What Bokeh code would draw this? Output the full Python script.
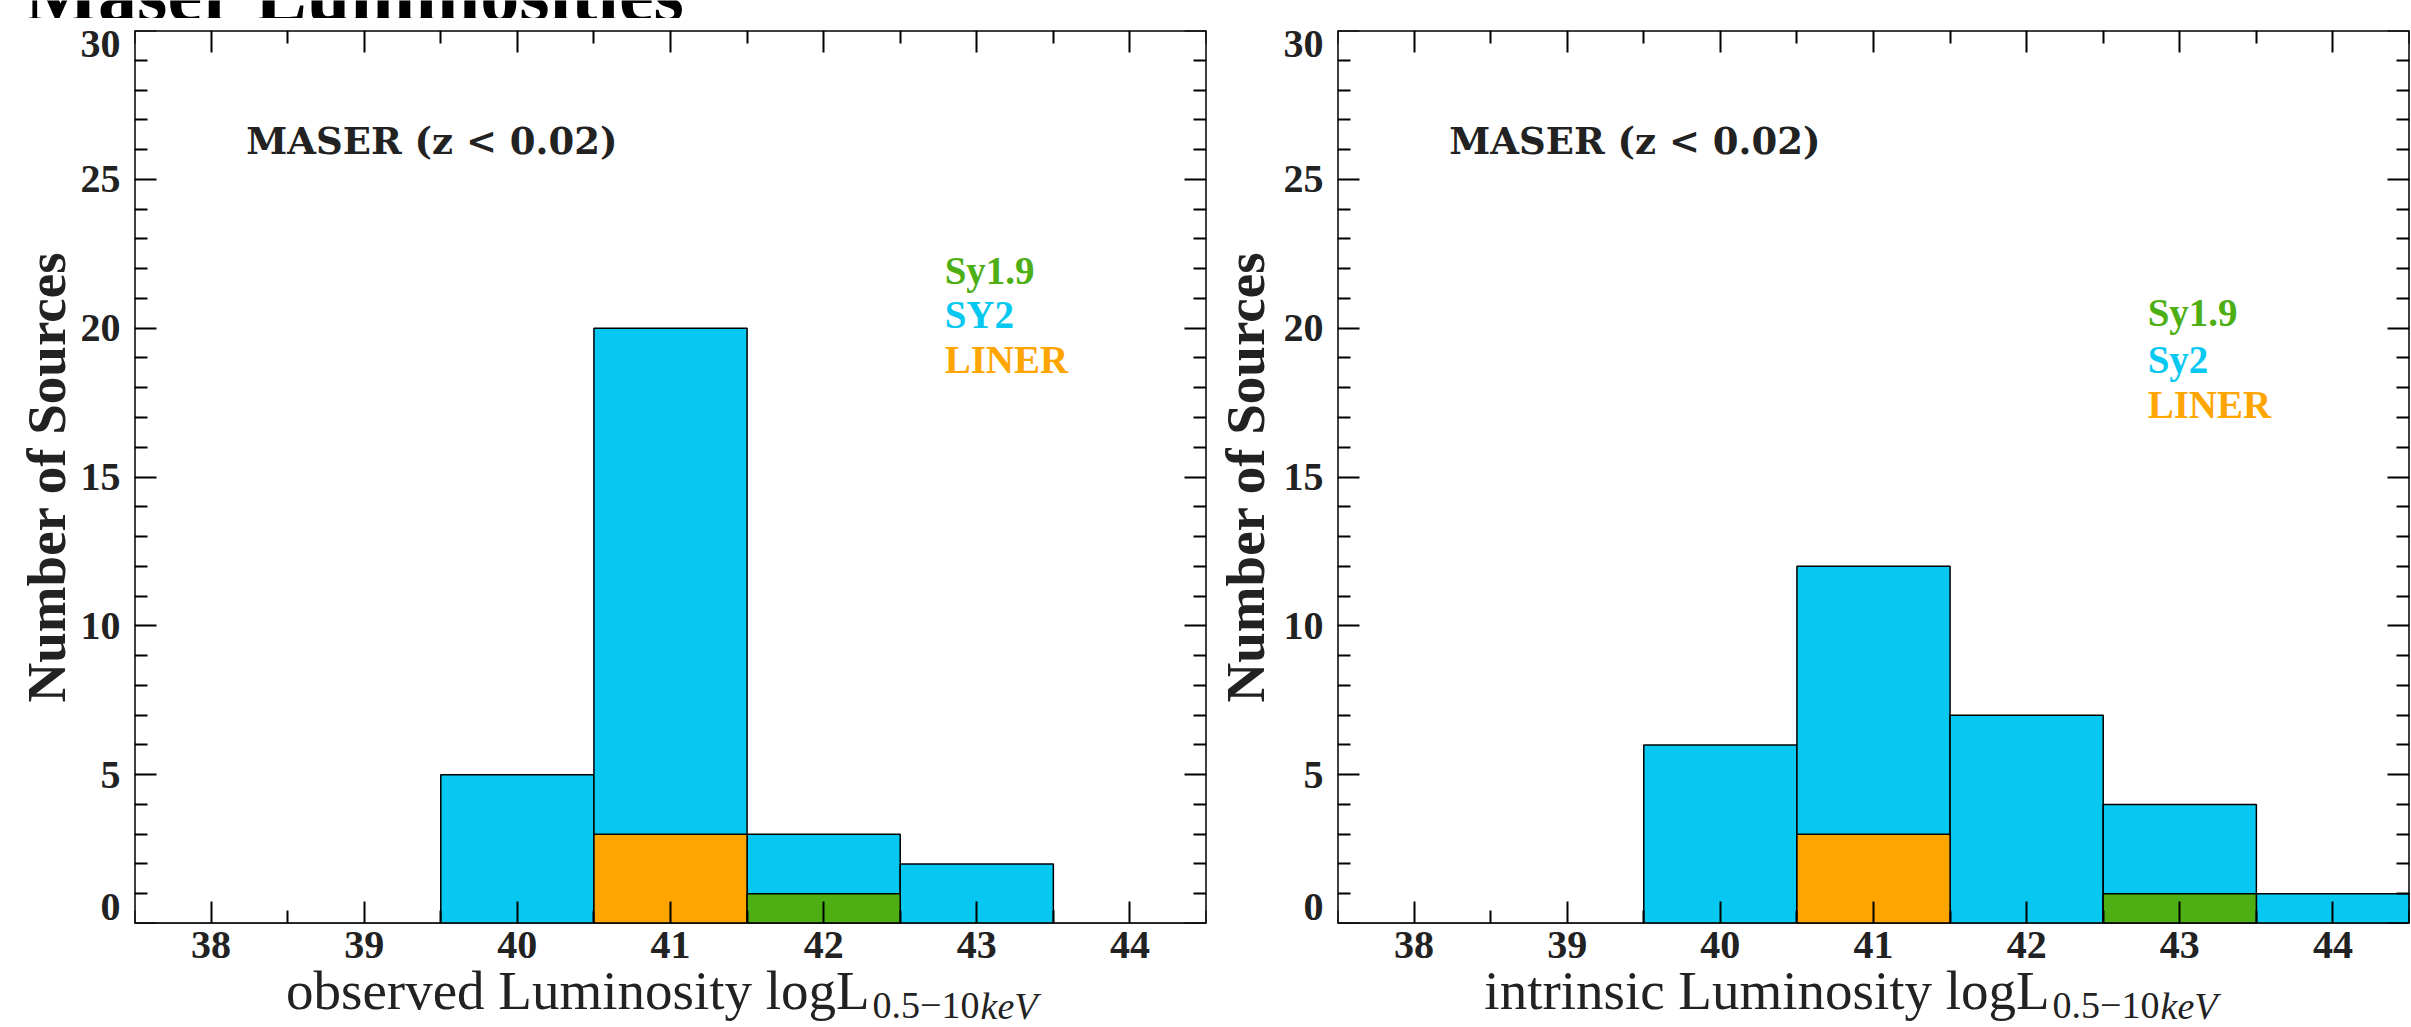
import math
from bokeh.plotting import figure
from bokeh.models import LinearAxis, FixedTicker, Label, Range1d
from bokeh.core.properties import value
from bokeh.layouts import row, column
from bokeh.embed import file_html
from bokeh.resources import INLINE

# ---------------- data ----------------
bins = [38, 39, 40, 41, 42, 43, 44]
obs_all = [0, 0, 5, 20, 3, 2, 0]
obs_liner = [0, 0, 0, 3, 0, 0, 0]
obs_sy19 = [0, 0, 0, 0, 1, 0, 0]
int_all = [0, 0, 6, 12, 7, 4, 1]
int_liner = [0, 0, 0, 3, 0, 0, 0]
int_sy19 = [0, 0, 0, 0, 0, 1, 0]
x_ticks = [38, 39, 40, 41, 42, 43, 44]
x_minor = [37.5, 38.5, 39.5, 40.5, 41.5, 42.5, 43.5, 44.5]
y_ticks = [0, 5, 10, 15, 20, 25, 30]
y_minor = [v for v in range(0, 31) if v % 5]
legend_left = ["Sy1.9", "SY2", "LINER"]
legend_right = ["Sy1.9", "Sy2", "LINER"]
sample_text = "MASER (z < 0.02)"
title_text = "Maser Luminosities"
y_title = "Number of Sources"
xlab_left = "observed Luminosity logL"
xlab_right = "intrinsic Luminosity logL"
xlab_sub = "0.5\u221210"
xlab_sub_it = "keV"

C_SY2 = "#06C8F0"
C_LINER = "#FFA500"
C_SY19 = "#4DAF14"
FONT = "Liberation Serif"
FONT_WIDE = "DejaVu Serif"
INK = "#222222"

X0, X1 = 37.5, 44.5
Y0, Y1 = 0, 30
H_TOTAL = 1027
FRAME_W, FRAME_H = 1072, 893
TITLE_H = 18
TOP_B, BOT_B, SIDE_B = 12, 2, 2
PANEL_H = TOP_B + FRAME_H + BOT_B
STRIP_H = H_TOTAL - TITLE_H - PANEL_H
LEFT1 = 134 - SIDE_B                                   # left margin strip, panel 1
LEFT2 = 1337 - SIDE_B - (LEFT1 + 2 * SIDE_B + FRAME_W)  # left margin strip, panel 2


def tick_axes(p, ticks, minor, side, where):
    # label-less axes pinned to the frame edge, ticks pointing inward:
    # one carries the long ticks, one the short ticks
    for tk, length in ((ticks, 22), (minor, 13)):
        ax = LinearAxis(ticker=FixedTicker(ticks=[], minor_ticks=tk),
                        axis_label=None, fixed_location=where)
        ax.axis_line_color = "black"
        ax.axis_line_width = 2
        ax.minor_tick_line_color = "black"
        ax.minor_tick_line_width = 2
        ax.minor_tick_in = length
        ax.minor_tick_out = 0
        ax.major_tick_in = 0
        ax.major_tick_out = 0
        p.add_layout(ax, side)


def make_panel(tot, liner, sy19, legend, leg_y):
    p = figure(width=2 * SIDE_B + FRAME_W, height=PANEL_H,
               frame_width=FRAME_W, frame_height=FRAME_H,
               x_range=Range1d(X0, X1), y_range=Range1d(Y0, Y1),
               x_axis_type=None, y_axis_type=None,
               output_backend="svg", toolbar_location=None,
               min_border_left=SIDE_B, min_border_right=SIDE_B,
               min_border_top=TOP_B, min_border_bottom=BOT_B)
    p.grid.visible = False
    p.outline_line_color = None

    left_e = [b - 0.5 for b in bins]
    right_e = [b + 0.5 for b in bins]
    p.quad(left=left_e, right=right_e, bottom=0, top=tot,
           fill_color=C_SY2, line_color="black", line_width=1.5)
    for vals, col in ((liner, C_LINER), (sy19, C_SY19)):
        idx = [i for i, v in enumerate(vals) if v > 0]
        p.quad(left=[left_e[i] for i in idx], right=[right_e[i] for i in idx],
               bottom=0, top=[vals[i] for i in idx],
               fill_color=col, line_color="black", line_width=1.5)

    tick_axes(p, x_ticks, x_minor, "below", Y0)
    tick_axes(p, x_ticks, x_minor, "above", Y1)
    tick_axes(p, y_ticks, y_minor, "left", X0)
    tick_axes(p, y_ticks, y_minor, "right", X1)

    p.add_layout(Label(x=38.23, y=26.30, text=sample_text, text_font=FONT_WIDE,
                       text_font_style="bold", text_font_size="37px",
                       text_color=INK, text_baseline="middle"))
    for name, col, yy in zip(legend, (C_SY19, C_SY2, C_LINER), leg_y):
        p.add_layout(Label(x=42.79, y=yy, text=name, text_font=FONT,
                           text_font_style="bold", text_font_size="39px",
                           text_color=col, text_baseline="middle"))
    return p


def blank(width, height, x_range, y_range, **borders):
    f = figure(width=width, height=height, x_range=x_range, y_range=y_range,
               output_backend="svg", toolbar_location=None,
               x_axis_type=None, y_axis_type=None, **borders)
    f.grid.visible = False
    f.outline_line_color = None
    return f


def y_strip(panel, width, label_right, title_x):
    s = blank(width, PANEL_H, Range1d(0, width), panel.y_range,
              min_border_left=0, min_border_right=0,
              min_border_top=TOP_B, min_border_bottom=BOT_B)
    s.frame_width = width
    s.frame_height = FRAME_H
    # tick labels of the y axis; the end labels are kept inside the frame
    for ys, base, off in ((y_ticks[:1], "bottom", -4), (y_ticks[1:-1], "middle", 0),
                          (y_ticks[-1:], "top", 0)):
        s.text(x=[label_right] * len(ys), y=ys, text=[str(v) for v in ys],
               y_offset=off,
               text_font=value(FONT), text_font_style=value("bold"),
               text_font_size=value("40px"), text_color=INK,
               text_align=value("right"), text_baseline=value(base))
    s.add_layout(Label(x=title_x, y=(Y0 + Y1) / 2, text=y_title, angle=math.pi / 2,
                       text_font=FONT, text_font_style="bold", text_font_size="55px",
                       text_color=INK, text_align="center", text_baseline="middle"))
    return s


def x_strip(panel, left, xlab, junction):
    s = blank(left + FRAME_W + SIDE_B, STRIP_H, panel.x_range, Range1d(0, STRIP_H),
              min_border_left=left, min_border_right=SIDE_B,
              min_border_top=0, min_border_bottom=0)
    s.frame_width = FRAME_W
    s.frame_height = STRIP_H
    s.text(x=x_ticks, y=[STRIP_H - 19] * len(x_ticks), text=[str(v) for v in x_ticks],
           text_font=value(FONT), text_font_style=value("bold"),
           text_font_size=value("40px"), text_color=INK,
           text_align=value("center"), text_baseline=value("middle"))
    s.add_layout(Label(x=junction, y=37.5, text=xlab, text_font=FONT,
                       text_font_size="55px", text_color=INK,
                       text_align="right", text_baseline="middle"))
    s.add_layout(Label(x=junction, y=22, x_offset=3, text=xlab_sub,
                       text_font=FONT, text_font_size="38px", text_color=INK,
                       text_align="left", text_baseline="middle"))
    s.add_layout(Label(x=junction, y=22, x_offset=111, text=xlab_sub_it,
                       text_font=FONT, text_font_size="38px", text_font_style="italic",
                       text_color=INK, text_align="left", text_baseline="middle"))
    return s


# title strip (the title runs off the top edge, as in the original)
t = blank(720, TITLE_H, Range1d(0, 720), Range1d(0, TITLE_H), min_border=0)
t.add_layout(Label(x=24, y=24.3, text=title_text, text_font=FONT,
                   text_font_size="78px", text_font_style="bold",
                   text_color="black", text_baseline="middle"))

p1 = make_panel(obs_all, obs_liner, obs_sy19, legend_left, (21.94, 20.46, 18.95))
p2 = make_panel(int_all, int_liner, int_sy19, legend_right, (20.53, 18.95, 17.44))
y1 = y_strip(p1, LEFT1, LEFT1 - 12, 46)
y2 = y_strip(p2, LEFT2, LEFT2 - 12, 37)
s1 = x_strip(p1, LEFT1 + SIDE_B, xlab_left, 42.30)
s2 = x_strip(p2, LEFT2 + SIDE_B, xlab_right, 42.15)

layout = column(t, row(y1, p1, y2, p2, spacing=0), row(s1, s2, spacing=0), spacing=0)
open("out.html", "w").write(file_html(layout, INLINE))
